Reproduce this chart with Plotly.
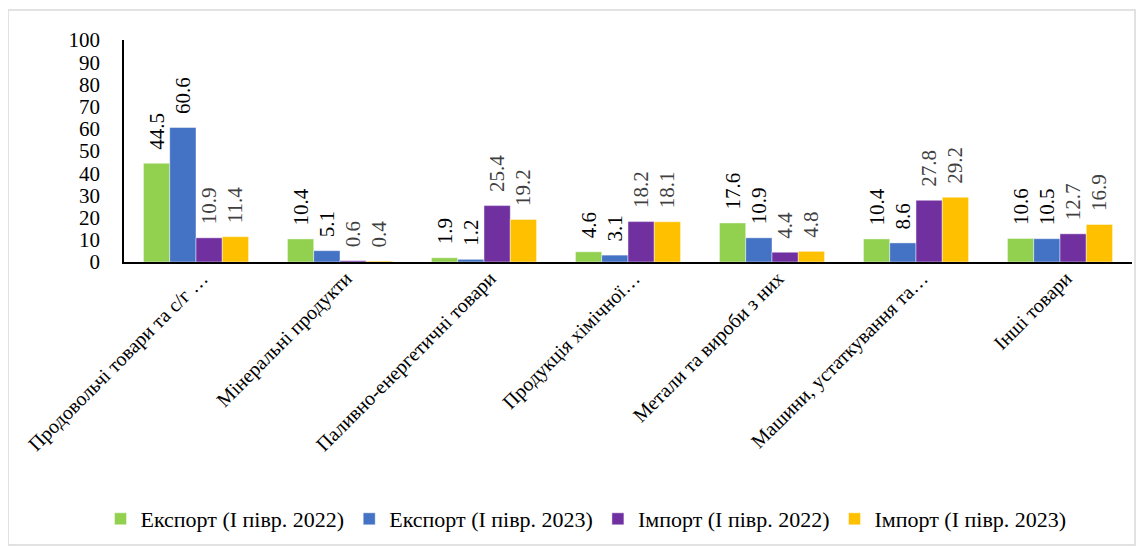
import plotly.graph_objects as go

categories = [
    "Продовольчі товари та с/г …",
    "Мінеральні продукти",
    "Паливно-енергетичні товари",
    "Продукція хімічної…",
    "Метали та вироби з них",
    "Машини, устаткування та…",
    "Інші товари",
]
export_2022 = [44.5, 10.4, 1.9, 4.6, 17.6, 10.4, 10.6]
export_2023 = [60.6, 5.1, 1.2, 3.1, 10.9, 8.6, 10.5]
import_2022 = [10.9, 0.6, 25.4, 18.2, 4.4, 27.8, 12.7]
import_2023 = [11.4, 0.4, 19.2, 18.1, 4.8, 29.2, 16.9]

series = [
    ("Експорт (I півр. 2022)", export_2022, "#92D050", "#000000"),
    ("Експорт (I півр. 2023)", export_2023, "#4472C4", "#000000"),
    ("Імпорт (I півр. 2022)", import_2022, "#7030A0", "#404040"),
    ("Імпорт (I півр. 2023)", import_2023, "#FFC000", "#404040"),
]

FONT = "Liberation Serif"
LABEL_SIZE = 21
fig = go.Figure()
for name, vals, color, tcolor in series:
    fig.add_trace(go.Bar(
        x=categories, y=vals, name=name,
        marker=dict(color=color, line=dict(color="rgba(255,255,255,0.6)", width=0.75)),
        text=["\u00a0\u00a0" + f"{v:.1f}" for v in vals],
        textposition="outside", textangle=-90,
        textfont=dict(family=FONT, size=LABEL_SIZE, color=tcolor),
        cliponaxis=False,
    ))

# page has an 8px body margin: figure origin sits at (8, 8) of the screenshot
OFF = 8
W, H = 1145 - OFF, 547 - OFF
L, T = 124 - OFF, 40 - OFF
R = W - (1132 - OFF)
B = H - (262 - OFF)
pw, ph = W - L - R, H - T - B

def px(x):
    return (x - OFF - L) / pw

def py(y):
    return (H - B - (y - OFF)) / ph

fig.update_layout(
    width=W, height=H,
    margin=dict(l=L, r=R, t=T, b=B, autoexpand=False),
    paper_bgcolor="white", plot_bgcolor="white",
    barmode="group", bargap=0.27, bargroupgap=0,
    uniformtext=dict(mode="show", minsize=LABEL_SIZE),
    font=dict(family=FONT, color="#000000"),
    legend=dict(
        orientation="h", x=(586 - OFF) / W, xanchor="center", xref="container",
        y=(H - (519 - OFF)) / H, yanchor="middle", yref="container",
        font=dict(family=FONT, size=22, color="#000000"),
        traceorder="normal",
    ),
    shapes=[dict(
        type="rect", xref="paper", yref="paper",
        x0=px(8), x1=px(1135), y0=py(545), y1=py(10),
        line=dict(color="#d9d9d9", width=1.5), fillcolor="rgba(0,0,0,0)",
        layer="below",
    )],
)
fig.update_yaxes(
    range=[0, 100], dtick=10, showgrid=False, zeroline=False,
    showline=True, linecolor="#000000", linewidth=1.5,
    ticks="", ticklabelstandoff=18, automargin=False,
    tickfont=dict(family=FONT, size=21, color="#000000"),
)
fig.update_xaxes(
    showgrid=False, showline=True, linecolor="#000000", linewidth=1.5,
    ticks="", tickangle=-45, automargin=False,
    ticklabelshift=6, ticklabelstandoff=-5,
    tickfont=dict(family=FONT, size=20, color="#000000"),
)
fig.write_html("out.html")
